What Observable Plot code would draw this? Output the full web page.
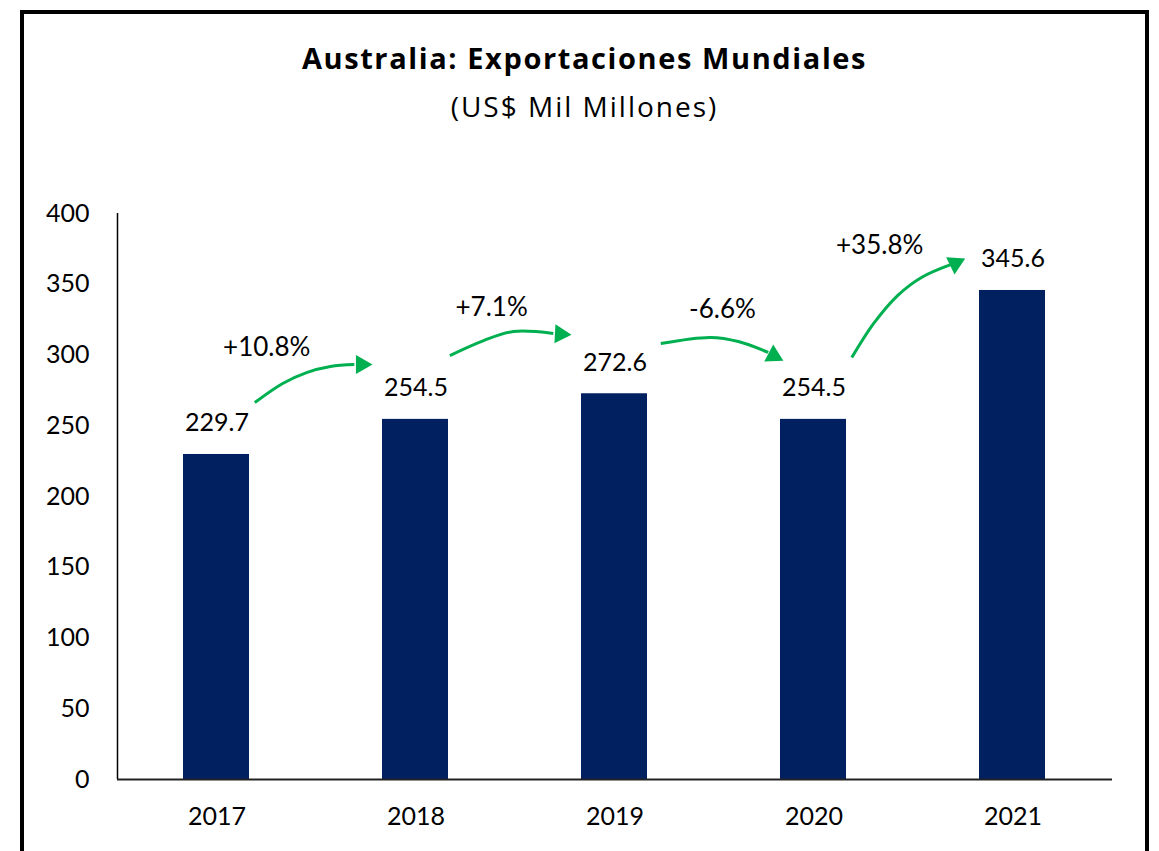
<!DOCTYPE html>
<html>
<head>
<meta charset="utf-8">
<script src="https://cdn.jsdelivr.net/npm/d3@7"></script>
<script src="https://cdn.jsdelivr.net/npm/@observablehq/plot@0.6"></script>
<style>
  html, body { margin: 0; padding: 0; background: #fff; }
  body { width: 1159px; height: 851px; position: relative; overflow: hidden; font-family: Lato, "Open Sans", sans-serif; }
  #frame { position: absolute; left: 20px; top: 10px; width: 1129px; height: 845px; box-sizing: border-box; border: 4px solid #000; pointer-events: none; }
  #title { position: absolute; left: 20px; width: 1129px; top: 38px; text-align: center; font-family: "Open Sans", Lato, sans-serif; font-weight: 700; font-size: 29px; letter-spacing: 1.6px; color: #000; line-height: 40px; }
  #subtitle { position: absolute; left: 20px; width: 1129px; top: 87px; text-align: center; font-family: "Open Sans", Lato, sans-serif; font-size: 28px; letter-spacing: 2px; color: #000; line-height: 38px; }
  #chart { position: absolute; left: 0; top: 150px; }
</style>
</head>
<body>
<div id="title">Australia: Exportaciones Mundiales</div>
<div id="subtitle">(US$ Mil Millones)</div>
<div id="chart"></div>
<div id="frame"></div>
<script>
// Data
const years = [2017, 2018, 2019, 2020, 2021];
const values = [229.7, 254.5, 272.6, 254.5, 345.6];
const yTicks = [0, 50, 100, 150, 200, 250, 300, 350, 400];

// Growth annotations (label positions in data units: year, value)
const growthLabels = ["+10.8%", "+7.1%", "-6.6%", "+35.8%"];
const growthLabelYear = [2017.25, 2018.38, 2019.54, 2020.33];
const growthLabelValue = [305, 333.5, 332, 377.5];

// Curved arrow paths (data units)
const arrowId    = [1, 1, 1, 1, 1,   2, 2, 2, 2,   3, 3, 3, 3,   4, 4, 4, 4, 4];
const arrowYear  = [2017.19, 2017.33, 2017.45, 2017.57, 2017.69,
                    2018.17, 2018.34, 2018.49, 2018.69,
                    2019.23, 2019.48, 2019.62, 2019.77,
                    2020.19, 2020.30, 2020.42, 2020.54, 2020.69];
const arrowValue = [266.4, 279.9, 287.6, 291.9, 293.3,
                    299.6, 310.2, 316.6, 315.2,
                    308.1, 312.4, 309.5, 301.8,
                    298.2, 322.3, 342.0, 354.8, 364.0];
// Arrow heads (centroid in data units, rotation in degrees)
const headYear  = [2017.726, 2018.726, 2019.797, 2020.71];
const headValue = [293.3, 314.8, 299.6, 364.7];
const headAngle = [90, 93, 118, 64];

const bars = years.map((year, i) => ({year, value: values[i]}));
const growth = growthLabels.map((label, i) => ({label, year: growthLabelYear[i], value: growthLabelValue[i]}));
const arrowPts = arrowId.map((id, i) => ({id, year: arrowYear[i], value: arrowValue[i]}));
const heads = headYear.map((year, i) => ({year, value: headValue[i], angle: headAngle[i]}));

const navy = "#002060";
const green = "#00B050";

const chart = Plot.plot({
  width: 1159,
  height: 700,
  marginLeft: 117,
  marginRight: 47,
  marginTop: 63,
  marginBottom: 71,
  style: { fontFamily: "Lato, 'Open Sans', sans-serif", fontSize: "25px", color: "#000", background: "transparent" },
  x: { type: "linear", domain: [2016.5, 2021.5] },
  y: { domain: [0, 400] },
  marks: [
    Plot.rectY(bars, {
      x1: d => d.year - 0.5, x2: d => d.year + 0.5, y1: 0, y2: "value",
      fill: navy, insetLeft: 66, insetRight: 67
    }),
    Plot.ruleX([2016.5], { y1: 0, y2: 400, stroke: "#000", strokeWidth: 1.5 }),
    Plot.ruleY([0], { stroke: "#222", strokeWidth: 2 }),
    Plot.axisY({ ticks: yTicks, tickSize: 0, tickPadding: 28, fontSize: 25, label: null }),
    Plot.axisX({ ticks: years, tickFormat: d => String(d), tickSize: 0, tickPadding: 28, fontSize: 25, label: null }),
    Plot.text(bars, { x: "year", y: "value", text: d => d.value.toFixed(1), dy: -31, fontSize: 25, fill: "#000" }),
    Plot.line(arrowPts, { x: "year", y: "value", z: "id", curve: "catmull-rom", stroke: green, strokeWidth: 3, strokeLinecap: "butt" }),
    Plot.dot(heads, { x: "year", y: "value", rotate: "angle", symbol: "triangle", r: 7.1, fill: green, stroke: "none" }),
    Plot.text(growth, { x: "year", y: "value", text: "label", fontSize: 26, fill: "#000" })
  ]
});
document.getElementById("chart").appendChild(chart);
</script>
</body>
</html>
